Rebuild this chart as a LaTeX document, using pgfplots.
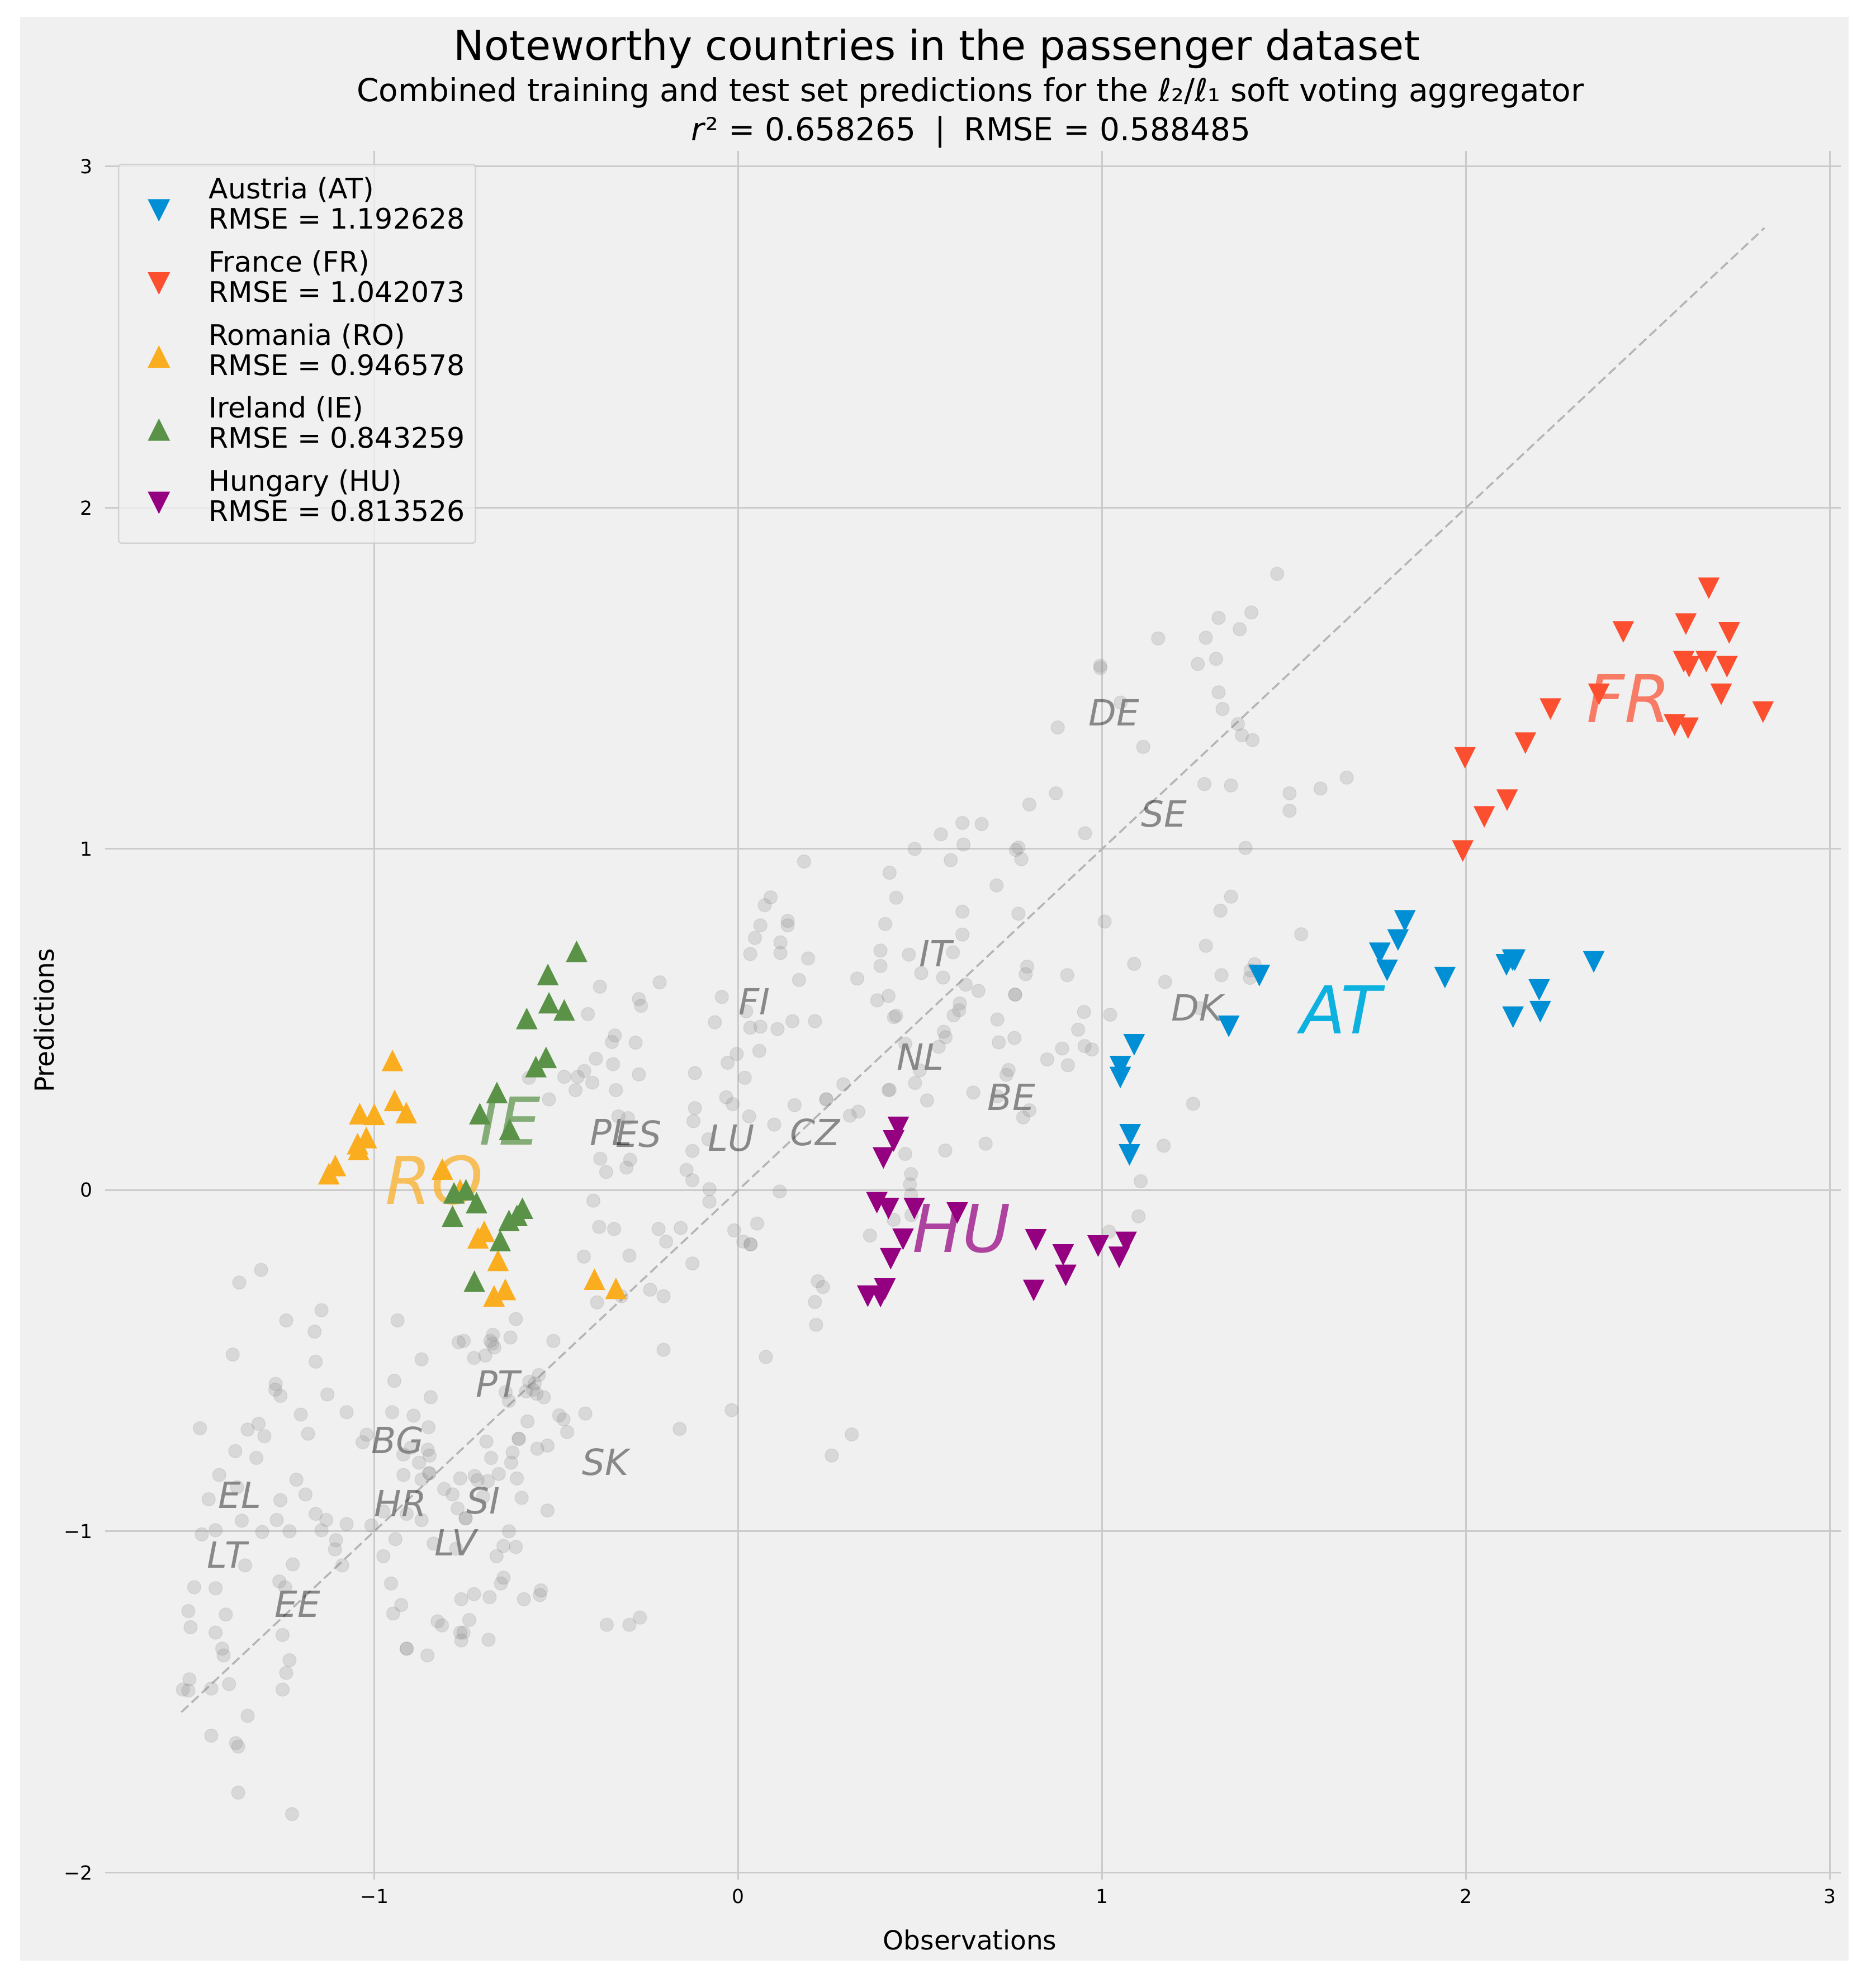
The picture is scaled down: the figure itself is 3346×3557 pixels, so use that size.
\documentclass[border=0pt]{standalone}
\usepackage{fontspec}
\setmainfont{DejaVu Sans}
\usepackage{pgfplots}
\pgfplotsset{compat=1.18}

\definecolor{panel}{HTML}{F0F0F0}
\definecolor{gridc}{HTML}{CBCBCB}
\definecolor{cAT}{HTML}{008FD5}
\definecolor{cFR}{HTML}{FC4F30}
\definecolor{cRO}{HTML}{FAAD1F}
\definecolor{cIE}{HTML}{5A9348}
\definecolor{cHU}{HTML}{940080}
\definecolor{lAT}{HTML}{00AEDF}

% matplotlib style triangles, centred on the mid height
\pgfdeclareplotmark{tup}{%
  \pgfpathmoveto{\pgfqpoint{0pt}{\pgfplotmarksize}}%
  \pgfpathlineto{\pgfqpoint{\pgfplotmarksize}{-\pgfplotmarksize}}%
  \pgfpathlineto{\pgfqpoint{-\pgfplotmarksize}{-\pgfplotmarksize}}%
  \pgfpathclose\pgfusepathqfill}
\pgfdeclareplotmark{tdown}{%
  \pgfpathmoveto{\pgfqpoint{0pt}{-\pgfplotmarksize}}%
  \pgfpathlineto{\pgfqpoint{\pgfplotmarksize}{\pgfplotmarksize}}%
  \pgfpathlineto{\pgfqpoint{-\pgfplotmarksize}{\pgfplotmarksize}}%
  \pgfpathclose\pgfusepathqfill}

\newcommand\leg[2]{\fontsize{10.1}{10.8}\selectfont\begin{tabular}{@{}l@{}}#1\\#2\end{tabular}}
\newcommand\lab[3]{\node[text=black,text opacity=.43,font=\fontsize{12.9}{14}\selectfont\itshape] at (axis cs:#1,#2) {#3};}
\newcommand\biglab[5][.72]{\node[text=#5,text opacity=#1,font=\fontsize{23.6}{26}\selectfont\itshape] at (axis cs:#2,#3) {#4};}

\begin{document}
\begin{tikzpicture}[x=0.2pt,y=0.2pt]
\fill[white] (0,0) rectangle (3346,3557);
\fill[panel] (36,49) rectangle (3307,3527);

\begin{axis}[
    at={(37.56pt,38.9pt)}, anchor=south west,
    scale only axis,
    width=621.05pt, height=618.5pt,
    xmin=-1.74, xmax=3.03, ymin=-2.02, ymax=3.046,
    axis line style={draw=none},
    major tick length=0pt,
    xtick={-1,0,1,2,3}, xticklabels={−1,0,1,2,3},
    ytick={-2,-1,0,1,2,3}, yticklabels={−2,−1,0,1,2,3},
    tick label style={font=\fontsize{6.9}{8}\selectfont},
    yticklabel style={xshift=-1pt},
    grid=major,
    grid style={gridc,line width=.6pt},
    legend cell align=left,
    legend image code/.code={\path (-10.4pt,0pt) (8.4pt,0pt);\draw[#1,fill opacity=1,draw opacity=1,mark size=4pt] plot coordinates {(0pt,-1pt)};},
    legend style={
      at={(0.0074,0.9926)}, anchor=north west,
      fill=panel, fill opacity=.8, text opacity=1, draw=gridc, draw opacity=.8,
      line width=.5pt, rounded corners=1pt,
      inner xsep=3.8pt, inner ysep=4.6pt,
      row sep=4.45pt,
      nodes={inner sep=0pt, text depth={}},
      /tikz/every odd column/.append style={column sep=9.2pt},
    },
  ]
% grey points: all the other countries
\addplot[only marks, mark=*, mark size=2.4pt, forget plot,
  mark options={fill=gray, fill opacity=.21, draw=gray, draw opacity=.14, line width=.3pt}]
  coordinates {
  (-1.311,-0.234) (-1.371,-0.271) (-1.145,-0.352) (-1.242,-0.382) (-1.164,-0.415) (-1.389,-0.482)
  (-1.161,-0.503) (-1.271,-0.568) (-1.272,-0.585) (-1.258,-0.603) (-1.129,-0.599) (-1.076,-0.651)
  (-1.202,-0.658) (-1.479,-0.698) (-1.348,-0.702) (-1.318,-0.685) (-1.302,-0.721) (-1.182,-0.714)
  (-1.021,-0.717) (-1.032,-0.739) (-1.382,-0.765) (-1.324,-0.785) (-1.426,-0.835) (-1.377,-0.871)
  (-1.455,-0.906) (-1.214,-0.849) (-1.189,-0.892) (-1.258,-0.909) (-1.364,-0.969) (-1.268,-0.967)
  (-1.161,-0.949) (-1.132,-0.967) (-1.076,-0.979) (-1.436,-0.997) (-1.474,-1.009) (-1.308,-1.002)
  (-1.233,-1.0) (-1.145,-0.997) (-1.105,-1.026) (-1.108,-1.053) (-1.008,-0.983) (-1.355,-1.100)
  (-1.224,-1.097) (-1.088,-1.100) (-1.261,-1.147) (-1.245,-1.164) (-1.495,-1.164) (-1.436,-1.167)
  (-1.511,-1.234) (-1.408,-1.244) (-1.505,-1.281) (-1.436,-1.297) (-1.252,-1.304) (-1.418,-1.344)
  (-1.414,-1.364) (-1.233,-1.378) (-1.242,-1.415) (-1.508,-1.434) (-1.526,-1.464) (-1.511,-1.467)
  (-1.448,-1.461) (-1.399,-1.448) (-1.252,-1.464) (-1.348,-1.541) (-1.448,-1.599) (-1.380,-1.621)
  (-1.374,-1.631) (-1.374,-1.766) (-1.226,-1.829)
  (-0.936,-0.382) (-0.870,-0.496) (-0.945,-0.559) (-0.951,-0.651) (-0.892,-0.661) (-0.845,-0.607)
  (-0.851,-0.695) (-0.853,-0.761) (-0.920,-0.775) (-0.848,-0.778) (-0.877,-0.799) (-0.899,-0.755)
  (-0.920,-0.835) (-0.870,-0.848) (-0.849,-0.830) (-0.849,-0.830) (-0.808,-0.876) (-0.785,-0.892)
  (-0.975,-0.942) (-0.911,-0.949) (-0.870,-0.967) (-0.771,-0.933) (-0.764,-0.845) (-0.724,-0.838)
  (-0.716,-0.850) (-0.688,-0.853) (-0.658,-0.832) (-0.608,-0.845) (-0.701,-0.899) (-0.595,-0.902)
  (-0.524,-0.939) (-0.749,-0.962) (-0.749,-0.962) (-0.630,-1.0) (-0.942,-1.023) (-0.837,-1.036)
  (-0.775,-1.051) (-0.975,-1.073) (-0.645,-1.043) (-0.611,-1.046) (-0.664,-1.073) (-0.954,-1.153)
  (-0.645,-1.136) (-0.652,-1.153) (-0.726,-1.184) (-0.761,-1.199) (-0.683,-1.193) (-0.589,-1.199)
  (-0.542,-1.173) (-0.545,-1.187) (-0.926,-1.216) (-0.948,-1.241) (-0.826,-1.264) (-0.814,-1.276)
  (-0.739,-1.260) (-0.764,-1.297) (-0.755,-1.297) (-0.761,-1.320) (-0.686,-1.318) (-0.911,-1.344)
  (-0.911,-1.344) (-0.854,-1.364) (-0.361,-1.274) (-0.299,-1.274) (-0.270,-1.253)
  (-0.611,-0.378) (-0.754,-0.442) (-0.768,-0.446) (-0.674,-0.424) (-0.681,-0.442) (-0.676,-0.450)
  (-0.670,-0.461) (-0.626,-0.432) (-0.508,-0.442) (-0.726,-0.492) (-0.695,-0.485) (-0.205,-0.468)
  (-0.548,-0.542) (-0.574,-0.562) (-0.559,-0.567) (-0.564,-0.585) (-0.583,-0.590) (-0.554,-0.597)
  (-0.534,-0.607) (-0.639,-0.592) (-0.630,-0.618) (-0.492,-0.660) (-0.480,-0.672) (-0.420,-0.655)
  (-0.579,-0.678) (-0.470,-0.709) (-0.692,-0.737) (-0.603,-0.729) (-0.603,-0.729) (-0.524,-0.749)
  (-0.552,-0.758) (-0.620,-0.769) (-0.679,-0.785) (-0.624,-0.799)
  (-0.424,-0.195) (-0.299,-0.192) (-0.388,-0.329) (-0.321,-0.311) (-0.242,-0.292) (-0.205,-0.311)
  (-0.380,0.596) (-0.413,0.516) (-0.216,0.609) (-0.273,0.560) (-0.267,0.540) (-0.339,0.453)
  (-0.347,0.434) (-0.282,0.432) (-0.391,0.385) (-0.344,0.369) (-0.423,0.349) (-0.441,0.332)
  (-0.478,0.332) (-0.401,0.315) (-0.273,0.339) (-0.575,0.329) (-0.447,0.293) (-0.336,0.293)
  (-0.520,0.266) (-0.329,0.216) (-0.303,0.211) (-0.379,0.092) (-0.297,0.089) (-0.307,0.066)
  (-0.363,0.053) (-0.398,-0.031) (-0.382,-0.108) (-0.341,-0.114)
  (-0.119,0.343) (-0.119,0.240) (-0.123,0.202) (-0.126,0.115) (-0.142,0.059) (-0.126,0.029)
  (-0.079,0.003) (-0.079,-0.034) (-0.082,0.149) (-0.045,0.566) (-0.064,0.492) (0.022,0.524)
  (0.033,0.692) (0.046,0.739) (0.061,0.776) (0.073,0.835) (0.089,0.858) (0.136,0.789)
  (0.136,0.776) (0.116,0.726) (0.116,0.695) (0.192,0.679) (0.167,0.616) (0.033,0.476)
  (0.061,0.479) (0.108,0.472) (0.149,0.495) (0.211,0.495) (-0.004,0.399) (-0.029,0.373)
  (0.058,0.408) (0.018,0.329) (-0.033,0.272) (-0.015,0.252) (0.030,0.216) (0.099,0.192)
  (0.155,0.249) (0.242,0.266) (0.242,0.266) (0.289,0.310) (0.307,0.218) (0.330,0.230)
  (0.327,0.620) (0.404,0.780) (0.391,0.702) (0.391,0.657) (0.382,0.556) (0.413,0.569)
  (0.428,0.507) (0.413,0.293) (0.114,-0.004) (0.052,-0.098) (-0.011,-0.118) (0.014,-0.151)
  (0.034,-0.159) (0.034,-0.159) (-0.126,-0.215) (-0.158,-0.111) (-0.219,-0.114) (-0.198,-0.151)
  (0.219,-0.267) (0.233,-0.284) (0.211,-0.328) (0.214,-0.395) (0.076,-0.489)
  (0.680,0.136) (0.569,0.116) (0.459,0.106) (0.475,0.047) (0.472,0.017) (0.475,-0.014)
  (0.476,-0.073) (0.427,-0.087) (0.362,-0.133) (1.169,0.130) (1.106,0.026) (1.100,-0.077)
  (1.019,-0.122) (0.800,0.234) (0.783,0.213) (0.519,0.263) (0.646,0.286) (0.416,0.294)
  (0.486,0.314) (0.499,0.351) (0.712,0.275) (0.743,0.352) (0.737,0.338) (0.849,0.383)
  (0.906,0.366) (0.890,0.415) (0.952,0.422) (0.972,0.412) (0.934,0.470) (0.716,0.433)
  (0.759,0.446) (0.551,0.420) (0.570,0.448) (0.565,0.464) (0.712,0.500) (0.592,0.512)
  (0.607,0.527) (0.434,0.511) (0.459,0.429) (1.250,0.253) (1.022,0.514) (0.950,0.522)
  (0.181,0.963) (0.416,0.930) (0.434,0.857) (0.469,0.690) (0.503,0.636) (0.563,0.623)
  (0.590,0.697) (0.616,0.749) (0.616,0.816) (0.625,0.602) (0.660,0.584) (0.609,0.547)
  (0.485,1.0) (0.557,1.043) (0.616,1.076) (0.669,1.073) (0.619,1.013) (0.584,0.967)
  (0.800,1.130) (0.873,1.163) (0.710,0.893) (0.770,1.004) (0.763,0.997) (0.778,0.970)
  (0.770,0.810) (0.953,1.046) (1.007,0.787) (0.878,1.356) (0.995,1.537) (0.995,1.530)
  (1.051,1.429) (1.113,1.299) (1.154,1.617) (1.263,1.542) (1.285,1.619) (1.320,1.677)
  (1.313,1.557) (1.378,1.644) (1.410,1.693) (1.481,1.806) (1.320,1.459) (1.331,1.410)
  (1.373,1.366) (1.384,1.333) (1.413,1.319) (1.281,1.190) (1.354,1.186) (1.394,1.003)
  (1.354,0.860) (1.325,0.819) (1.285,0.716) (1.088,0.663) (1.173,0.610) (1.328,0.630)
  (1.419,0.662) (1.408,0.644) (1.406,0.622) (1.269,0.533) (0.904,0.630) (0.794,0.655)
  (0.790,0.633) (0.761,0.573) (0.761,0.573) (1.515,1.163) (1.515,1.112) (1.600,1.177)
  (1.672,1.209) (1.547,0.750) (-0.161,-0.700) (-0.018,-0.645) (0.312,-0.716) (0.257,-0.778)
  };
% identity line
\addplot[forget plot, color=black!29, line width=.7pt, dash pattern=on 3.4pt off 1.6pt]
  coordinates {(-1.53,-1.53) (2.82,2.82)};

\addplot[only marks, mark=tdown, mark size=3.85pt, color=cAT] coordinates {
  (1.832,0.789) (1.813,0.733) (1.763,0.694) (1.783,0.644) (1.942,0.623) (2.111,0.660) (2.134,0.674)
  (2.128,0.674) (2.201,0.587) (2.204,0.523) (2.129,0.507) (2.351,0.669) (1.432,0.629) (1.348,0.480)
  (1.088,0.426) (1.050,0.362) (1.050,0.330) (1.077,0.162) (1.075,0.103)};
\addlegendentry{\leg{Austria (AT)}{RMSE = 1.192628}}
\addplot[only marks, mark=tdown, mark size=3.85pt, color=cFR] coordinates {
  (2.667,1.764) (2.432,1.636) (2.604,1.659) (2.723,1.633) (2.598,1.549) (2.613,1.534) (2.660,1.549)
  (2.717,1.534) (2.701,1.453) (2.365,1.453) (2.232,1.410) (2.816,1.401) (2.573,1.363) (2.610,1.354)
  (2.163,1.310) (1.997,1.267) (2.113,1.143) (2.050,1.094) (1.991,0.994)};
\addlegendentry{\leg{France (FR)}{RMSE = 1.042073}}
\addplot[only marks, mark=tup, mark size=3.85pt, color=cRO] coordinates {
  (-0.950,0.380) (-0.944,0.263) (-0.912,0.227) (-1.040,0.224) (-1.000,0.222) (-1.022,0.154)
  (-1.046,0.136) (-1.043,0.119) (-1.107,0.072) (-1.125,0.048) (-0.813,0.062) (-0.764,0.001)
  (-0.698,-0.121) (-0.715,-0.140) (-0.660,-0.206) (-0.640,-0.291) (-0.671,-0.310) (-0.395,-0.261)
  (-0.336,-0.288)};
\addlegendentry{\leg{Romania (RO)}{RMSE = 0.946578}}
\addplot[only marks, mark=tup, mark size=3.85pt, color=cIE] coordinates {
  (-0.444,0.700) (-0.523,0.632) (-0.520,0.549) (-0.478,0.528) (-0.581,0.503) (-0.528,0.389)
  (-0.556,0.362) (-0.663,0.286) (-0.710,0.224) (-0.628,0.178) (-0.781,-0.008) (-0.748,0.001)
  (-0.719,-0.037) (-0.785,-0.076) (-0.593,-0.053) (-0.608,-0.074) (-0.630,-0.089) (-0.654,-0.148)
  (-0.725,-0.267)};
\addlegendentry{\leg{Ireland (IE)}{RMSE = 0.843259}}
\addplot[only marks, mark=tdown, mark size=3.85pt, color=cHU] coordinates {
  (0.440,0.184) (0.427,0.144) (0.399,0.094) (0.381,-0.037) (0.413,-0.054) (0.484,-0.054)
  (0.602,-0.067) (0.453,-0.144) (0.419,-0.201) (0.818,-0.146) (0.893,-0.190) (0.900,-0.250)
  (0.989,-0.164) (1.066,-0.153) (1.047,-0.197) (0.812,-0.294) (0.356,-0.311) (0.391,-0.312)
  (0.403,-0.290)};
\addlegendentry{\leg{Hungary (HU)}{RMSE = 0.813526}}

\lab{-0.660}{-0.567}{PT}
\lab{-0.936}{-0.734}{BG}
\lab{-0.364}{-0.797}{SK}
\lab{-1.370}{-0.894}{EL}
\lab{-0.928}{-0.918}{HR}
\lab{-0.701}{-0.910}{SI}
\lab{-1.405}{-1.069}{LT}
\lab{-0.776}{-1.033}{LV}
\lab{-1.211}{-1.213}{EE}
\lab{0.045}{0.552}{FI}
\lab{-0.350}{0.169}{PL}
\lab{-0.273}{0.164}{ES}
\lab{-0.019}{0.152}{LU}
\lab{0.211}{0.169}{CZ}
\lab{1.033}{1.400}{DE}
\lab{1.170}{1.103}{SE}
\lab{0.542}{0.694}{IT}
\lab{1.261}{0.534}{DK}
\lab{0.501}{0.391}{NL}
\lab{0.751}{0.273}{BE}
\biglab[.95]{1.656}{0.529}{AT}{lAT}
\biglab{2.447}{1.442}{FR}{cFR}
\biglab{-0.835}{0.029}{RO}{cRO}
\biglab{-0.627}{0.203}{IE}{cIE}
\biglab{0.614}{-0.113}{HU}{cHU}
\end{axis}

\node[font=\fontsize{14.65}{16}\selectfont] at (1676,3470) {Noteworthy countries in the passenger dataset};
\node[font=\fontsize{11.3}{14}\selectfont] at (1736,3391) {Combined training and test set predictions for the \textit{ℓ}₂/\textit{ℓ}₁ soft voting aggregator};
\node[font=\fontsize{11.3}{14}\selectfont] at (1737,3320) {\textit{r}² = 0.658265\hspace{.6em}|\hspace{.6em}RMSE = 0.588485};
\node[font=\fontsize{9.4}{11}\selectfont] at (1735,86) {Observations};
\node[font=\fontsize{9.4}{11}\selectfont,rotate=90] at (79,1731) {Predictions};
\end{tikzpicture}
\end{document}
